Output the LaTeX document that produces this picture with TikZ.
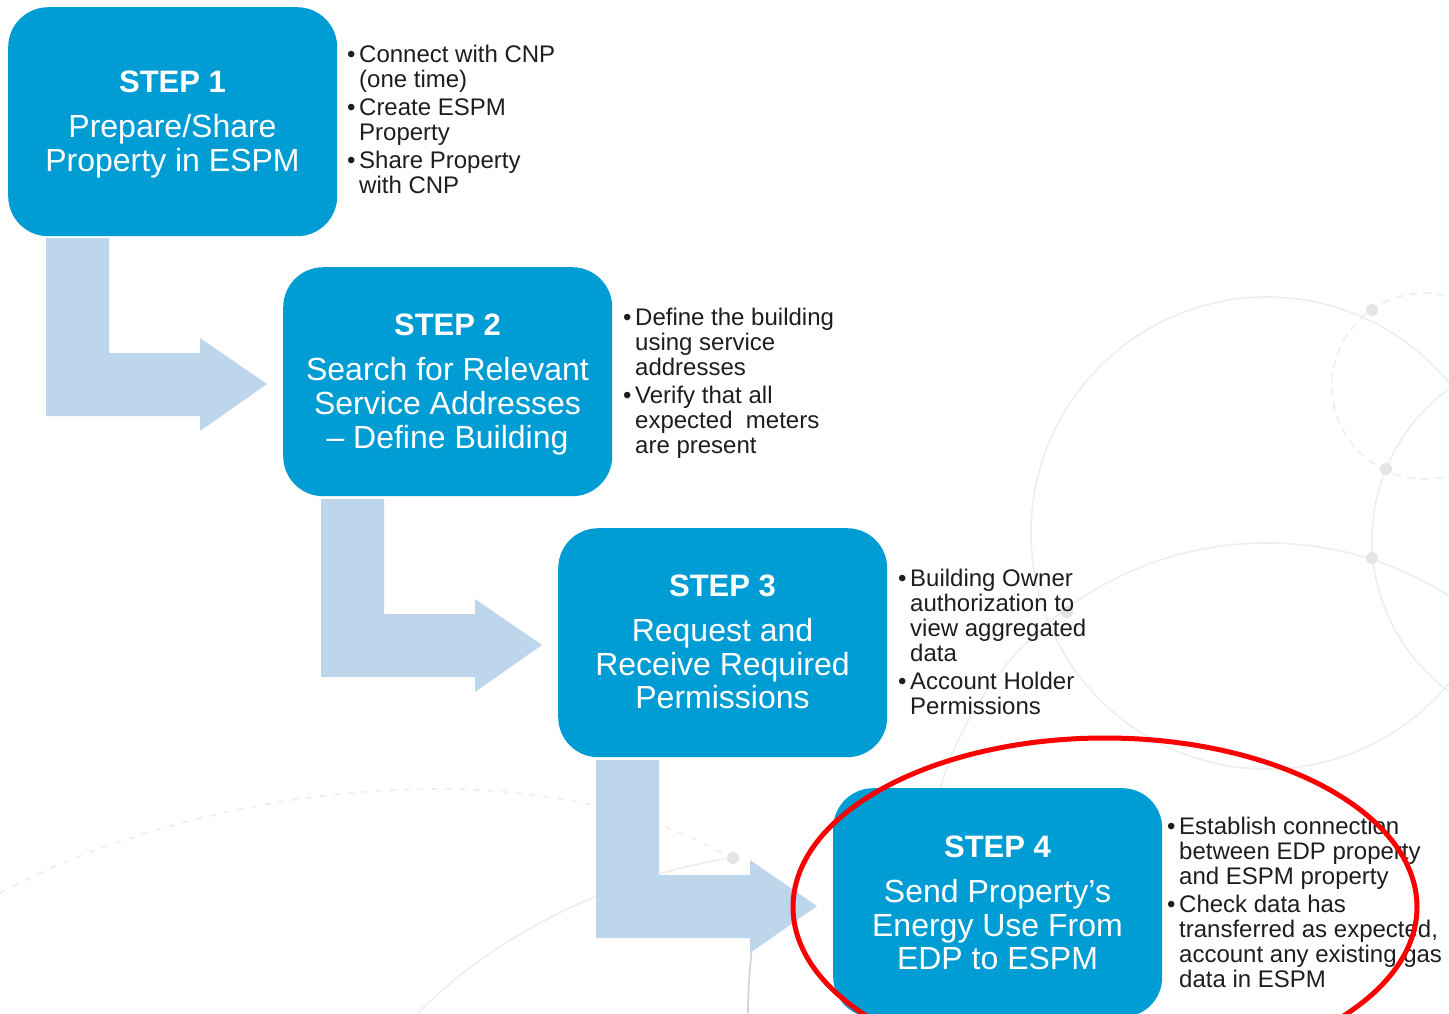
\documentclass[tikz,border=0pt]{standalone}
\usepackage{fontspec}
\setmainfont{Liberation Sans}
\definecolor{stepblue}{RGB}{0,157,213}
\definecolor{arrowblue}{RGB}{190,214,235}
\definecolor{bodytext}{RGB}{30,30,30}
\definecolor{faint}{RGB}{238,238,238}
\definecolor{faintdot}{RGB}{228,228,228}
\definecolor{markred}{RGB}{250,0,0}
\newcommand{\stepbul}{\makebox[12pt][l]{\textbullet}}
\begin{document}
\begin{tikzpicture}[x=1pt,y=-1pt,
  stepbox/.style={fill=stepblue, draw=none, rounded corners=40pt, minimum width=329pt, minimum height=229pt, inner sep=0pt, anchor=north west},
  headtext/.style={text=white, font=\fontsize{31}{34}\selectfont\bfseries, anchor=base, inner sep=0pt},
  bodytxt/.style={text=white, font=\fontsize{32}{34}\selectfont, anchor=base, inner sep=0pt},
  bullets/.style={text=bodytext, font=\fontsize{24}{25}\selectfont, anchor=north west, inner sep=0pt},
  bentarrow/.style={fill=arrowblue, draw=none},
  bgline/.style={draw=faint, line width=1.6pt},
  bgdot/.style={fill=faintdot, draw=none},
  redmark/.style={draw=markred, line width=5pt}
]
\useasboundingbox (0,0) rectangle (1449,1013);
\fill[white] (0,0) rectangle (1449,1013);

% faint background decoration
\draw[bgline] (1267,533) circle [radius=236pt];
\draw[bgline, dashed, dash pattern=on 8pt off 6pt] (1425,386) circle [radius=93pt];
\draw[bgline] (1559,540) circle [radius=187pt];
\draw[bgline] (1267,883) circle [radius=340pt];
\draw[bgline, dash pattern=on 6pt off 8pt] (0,893) .. controls (180,795) and (520,735) .. (731,858);
\draw[bgline] (418,1013) .. controls (500,930) and (620,875) .. (731,858);
\draw[draw=black!18, line width=1.6pt] (752,948) .. controls (749,975) and (748,995) .. (748,1013);
\foreach \p in {(1372,310),(1386,469),(1372,558),(1067,612),(733,858)}
  \fill[bgdot] \p circle [radius=6pt];

% bent arrows
\foreach \i in {0,1,2} {
  \fill[bentarrow, shift={(275*\i,261*\i)}]
    (46,238) -- (109,238) -- (109,353) -- (200,353) -- (200,338) -- (267,384)
    -- (200,431) -- (200,416) -- (46,416) -- cycle;
}

% step boxes
\node[stepbox] (s1) at (8,7) {};
\node[stepbox] (s2) at (283,267) {};
\node[stepbox] (s3) at (558,528) {};
\node[stepbox] (s4) at (833,788) {};

% box texts
\node[headtext] (h1) at (172.5,92) {STEP 1};
\node[bodytxt] (t1a) at (172.5,137) {Prepare/Share};
\node[bodytxt] (t1b) at (172.5,171) {Property in ESPM};

\node[headtext] (h2) at (447.5,335) {STEP 2};
\node[bodytxt] (t2a) at (447.5,380) {Search for Relevant};
\node[bodytxt] (t2b) at (447.5,414) {Service Addresses};
\node[bodytxt] (t2c) at (447.5,448) {– Define Building};

\node[headtext] (h3) at (722.5,596) {STEP 3};
\node[bodytxt] (t3a) at (722.5,641) {Request and};
\node[bodytxt] (t3b) at (722.5,675) {Receive Required};
\node[bodytxt] (t3c) at (722.5,708) {Permissions};

\node[headtext] (h4) at (997.5,857) {STEP 4};
\node[bodytxt] (t4a) at (997.5,902) {Send Property’s};
\node[bodytxt] (t4b) at (997.5,936) {Energy Use From};
\node[bodytxt] (t4c) at (997.5,969) {EDP to ESPM};

% bullet lists
\node[bullets] (b1) at (347,44.5) {\begin{tabular}{@{}l@{}l@{}}
\stepbul & Connect with CNP\\
 & (one time)\\[3pt]
\stepbul & Create ESPM\\
 & Property\\[3pt]
\stepbul & Share Property\\
 & with CNP
\end{tabular}};

\node[bullets] (b2) at (623,307.5) {\begin{tabular}{@{}l@{}l@{}}
\stepbul & Define the building\\
 & using service\\
 & addresses\\[3pt]
\stepbul & Verify that all\\
 & expected\ \ meters\\
 & are present
\end{tabular}};

\node[bullets] (b3) at (898,568.5) {\begin{tabular}{@{}l@{}l@{}}
\stepbul & Building Owner\\
 & authorization to\\
 & view aggregated\\
 & data\\[3pt]
\stepbul & Account Holder\\
 & Permissions
\end{tabular}};

\node[bullets] (b4) at (1167,816.5) {\begin{tabular}{@{}l@{}l@{}}
\stepbul & Establish connection\\
 & between EDP property\\
 & and ESPM property\\[3pt]
\stepbul & Check data has\\
 & transferred as expected,\\
 & account any existing gas\\
 & data in ESPM
\end{tabular}};

% red highlight ellipse
\draw[redmark] (1105,907) ellipse [x radius=312pt, y radius=169pt];
\end{tikzpicture}
\end{document}
